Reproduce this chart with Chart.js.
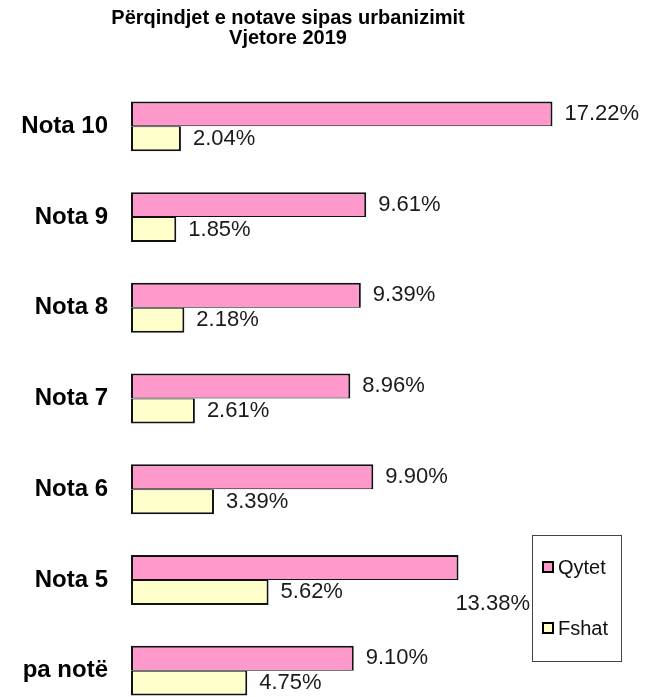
<!DOCTYPE html>
<html>
<head>
<meta charset="utf-8">
<script src="https://cdn.jsdelivr.net/npm/chart.js@4/dist/chart.umd.min.js"></script>
<style>
  html, body { margin: 0; padding: 0; background: #fff; overflow: hidden; }
  canvas { display: block; }
</style>
</head>
<body>
<!-- pak më e lartë se dritarja: shtylla e fundit pritet në buzë si në origjinal -->
<canvas id="notatChart" width="645" height="716"></canvas>
<script>
// të dhënat
const titleLines = ['Përqindjet e notave sipas urbanizimit', 'Vjetore 2019'];
const categories = ['Nota 10', 'Nota 9', 'Nota 8', 'Nota 7', 'Nota 6', 'Nota 5', 'pa notë'];
const seriesNames = ['Qytet', 'Fshat'];
const qytetValues = [17.22, 9.61, 9.39, 8.96, 9.90, 13.38, 9.10];
const fshatValues = [2.04, 1.85, 2.18, 2.61, 3.39, 5.62, 4.75];

const FONT = '"Liberation Sans", Arial, sans-serif';
const LEGEND_BOX = { x: 532, y: 535, w: 89, h: 126 };

// titulli
const titlePlugin = {
    id: 'titleLines',
    afterDraw(chart) {
        const c = chart.ctx;
        c.save();
        c.fillStyle = '#000';
        c.font = 'bold 20px ' + FONT;
        c.textAlign = 'center';
        c.textBaseline = 'middle';
        titleLines.forEach((t, i) => c.fillText(t, 288, 18 + i * 20));
        c.restore();
    }
};

// etiketat e vlerave
const valueLabels = {
    id: 'valueLabels',
    afterDatasetsDraw(chart) {
        const c = chart.ctx;
        c.save();
        c.font = '22px ' + FONT;
        c.fillStyle = '#1a1a1a';
        c.textBaseline = 'middle';
        chart.data.datasets.forEach((ds, di) => {
            chart.getDatasetMeta(di).data.forEach((bar, i) => {
                const txt = ds.data[i].toFixed(2) + '%';
                let x = bar.x + 12, y = bar.y;
                c.textAlign = 'left';
                // Nota 5 / Qytet: etiketa do prekte legjendën, shtyhet poshtë
                const hitsBox = x + c.measureText(txt).width > LEGEND_BOX.x &&
                    y > LEGEND_BOX.y - 10 && y < LEGEND_BOX.y + LEGEND_BOX.h;
                if (hitsBox) {
                    c.textAlign = 'right';
                    x = LEGEND_BOX.x - 2;
                    y = bar.y + 36;
                }
                c.fillText(txt, x, y);
            });
        });
        c.restore();
    }
};

// legjenda në kuti
const boxLegend = {
    id: 'boxLegend',
    afterDraw(chart) {
        const c = chart.ctx;
        const b = LEGEND_BOX;
        c.save();
        c.strokeStyle = '#444';
        c.lineWidth = 1;
        c.strokeRect(b.x + 0.5, b.y + 0.5, b.w, b.h);
        c.font = '20px ' + FONT;
        c.textBaseline = 'middle';
        c.textAlign = 'left';
        chart.data.datasets.forEach((ds, i) => {
            const cy = b.y + 32 + i * 61;
            c.fillStyle = ds.backgroundColor;
            c.fillRect(b.x + 11, cy - 5, 10, 10);
            c.strokeStyle = '#000';
            c.lineWidth = 2;
            c.strokeRect(b.x + 11, cy - 5, 10, 10);
            c.fillStyle = '#111';
            c.fillText(ds.label, b.x + 26, cy + 1);
        });
        c.restore();
    }
};

const chart = new Chart(document.getElementById('notatChart'), {
    type: 'bar',
    data: {
        labels: categories,
        datasets: [
            {
                label: seriesNames[0],
                data: qytetValues,
                backgroundColor: '#FF99CC',
                borderColor: '#111',
                borderWidth: { top: 2, left: 2, right: 2, bottom: 1 },
                borderSkipped: false
            },
            {
                label: seriesNames[1],
                data: fshatValues,
                backgroundColor: '#FFFFCC',
                borderColor: '#111',
                borderWidth: { top: 1, left: 2, right: 2, bottom: 2 },
                borderSkipped: false
            }
        ]
    },
    options: {
        indexAxis: 'y',
        responsive: false,
        animation: false,
        layout: { padding: { top: 81, right: 0, bottom: 0, left: 0 } },
        categoryPercentage: 0.55,
        barPercentage: 1,
        plugins: {
            legend: { display: false },
            title: { display: false },
            tooltip: { enabled: false }
        },
        scales: {
            x: { display: false, min: 0, max: 21 },
            y: {
                grid: { display: false, drawTicks: false },
                border: { display: false },
                ticks: {
                    color: '#000',
                    padding: 23,
                    font: { family: FONT, size: 24, weight: 'bold' }
                },
                afterFit(scale) {
                    scale.width = 131;
                    // pa hapësirë shtesë sipër/poshtë nga etiketat
                    scale.paddingTop = 0;
                    scale.paddingBottom = 0;
                }
            }
        }
    },
    plugins: [titlePlugin, valueLabels, boxLegend]
});
</script>
</body>
</html>
